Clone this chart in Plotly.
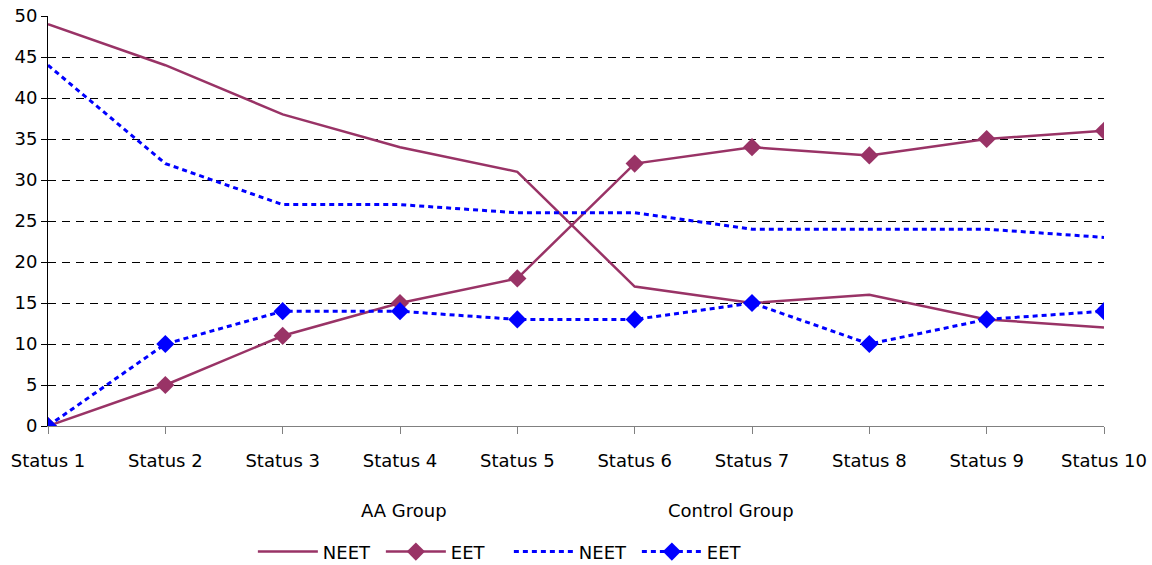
import plotly.graph_objects as go

categories = ["Status 1", "Status 2", "Status 3", "Status 4", "Status 5",
              "Status 6", "Status 7", "Status 8", "Status 9", "Status 10"]

aa_neet = [49, 44, 38, 34, 31, 17, 15, 16, 13, 12]
aa_eet = [0, 5, 11, 15, 18, 32, 34, 33, 35, 36]
ctrl_neet = [44, 32, 27, 27, 26, 26, 24, 24, 24, 23]
ctrl_eet = [0, 10, 14, 14, 13, 13, 15, 10, 13, 14]

group_labels = ["AA Group", "Control Group"]
y_ticks = [0, 5, 10, 15, 20, 25, 30, 35, 40, 45, 50]

MAROON = "#993366"
BLUE = "#0000FF"
FONT = "DejaVu Sans"
FS = 18

fig = go.Figure()
fig.add_trace(go.Scatter(x=categories, y=aa_neet, name="NEET", mode="lines",
                         line=dict(color=MAROON, width=2.5)))
fig.add_trace(go.Scatter(x=categories, y=aa_eet, name="EET", mode="lines+markers",
                         line=dict(color=MAROON, width=2.5),
                         marker=dict(symbol="diamond", size=14, color=MAROON)))
fig.add_trace(go.Scatter(x=categories, y=ctrl_neet, name="NEET", mode="lines",
                         line=dict(color=BLUE, width=3, dash="5px,4px")))
fig.add_trace(go.Scatter(x=categories, y=ctrl_eet, name="EET", mode="lines+markers",
                         line=dict(color=BLUE, width=3, dash="5px,4px"),
                         marker=dict(symbol="diamond", size=14, color=BLUE)))

# group captions under the category axis
for label, xpos in zip(group_labels, [3.03, 5.82]):
    fig.add_annotation(text=label, x=xpos, xref="x", y=-0.205, yref="paper",
                       showarrow=False, font=dict(family=FONT, size=FS, color="#000"),
                       xanchor="center", yanchor="middle")

fig.update_layout(
    width=1152, height=565,
    margin=dict(l=48, r=48, t=16, b=139, autoexpand=False),
    paper_bgcolor="white", plot_bgcolor="white",
    font=dict(family=FONT, size=FS, color="#000"),
    showlegend=True,
    legend=dict(orientation="h", x=0.194, xanchor="left", y=-0.307, yanchor="middle",
                font=dict(family=FONT, size=FS), itemwidth=60, tracegroupgap=0,
                entrywidth=53, entrywidthmode="pixels"),
    xaxis=dict(type="category", range=[0, 9], showgrid=False,
               showline=True, linecolor="#808080", linewidth=1,
               ticks="outside", ticklen=7, tickcolor="#808080",
               ticklabelstandoff=11,
               tickfont=dict(family=FONT, size=FS), zeroline=False),
    yaxis=dict(range=[0, 50], tickvals=y_ticks, showgrid=True,
               gridcolor="#000", griddash="8px,6px", gridwidth=1,
               showline=True, linecolor="#000", linewidth=1,
               ticks="outside", ticklen=6, tickcolor="#000",
               tickfont=dict(family=FONT, size=FS), zeroline=False),
)

fig.write_html("out.html")
